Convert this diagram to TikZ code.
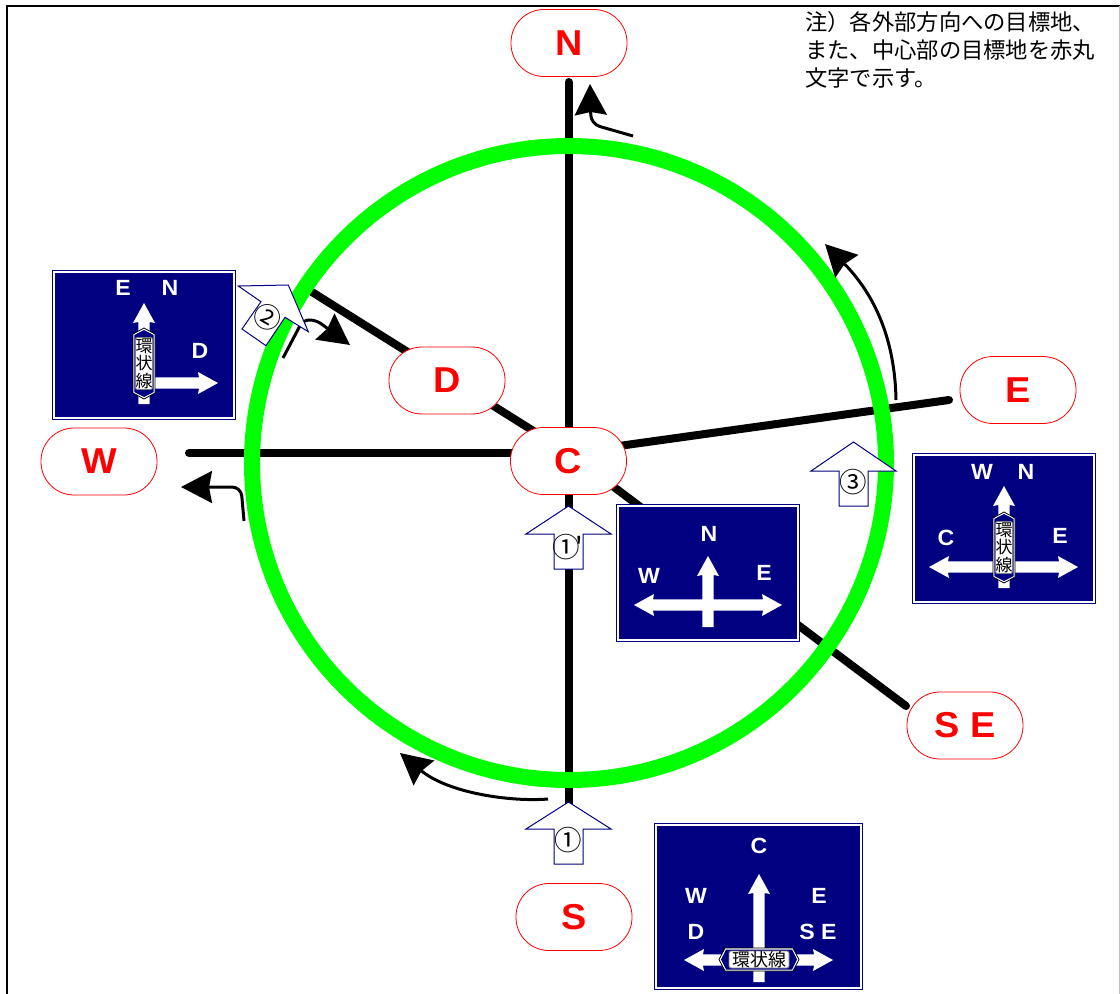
\documentclass[tikz,border=0pt]{standalone}
\usepackage{fontspec}
\usetikzlibrary{arrows.meta}
\newfontfamily\cjkfont{Noto Sans CJK JP}
\newfontfamily\signfont{Liberation Sans}[FakeStretch=1.05]
\definecolor{signblue}{HTML}{000080}
\definecolor{ringgreen}{HTML}{00FF00}
\tikzset{
  road/.style={line width=8pt,line cap=round,black},
  ring/.style={line width=16pt,ringgreen},
  pill/.style={draw=red,line width=0.8pt,fill=white,rounded corners=33pt,minimum width=116pt,minimum height=67pt,inner sep=0pt,outer sep=0pt,text=red,font=\signfont\bfseries\fontsize{36}{38}\selectfont},
  signbox/.style={draw=signblue,fill=signblue,line width=1.4pt,double=white,double distance=1.5pt,inner sep=0pt,outer sep=0pt},
  signtext/.style={text=white,inner sep=0pt,font=\signfont\bfseries\fontsize{22}{24}\selectfont},
  guide/.style={draw=signblue,fill=white,line width=1pt,line join=miter},
  guidetext/.style={inner sep=0pt,font=\cjkfont\fontsize{27.5}{29}\selectfont},
  turn/.style={line width=3pt,black,-{Stealth[length=31pt,width=32pt,inset=3pt]}},
  note/.style={inner sep=0pt,anchor=north west,align=left,font=\cjkfont\fontsize{22.3}{28}\selectfont},
}
% white arrow of a sign: tip at (#1,#2), rotated #3, total length #4
\newcommand{\whitearrow}[4]{\fill[white,shift={(#1,#2)},rotate=#3] (0,0) -- (11,20) -- (5.7,19) -- (5.7,#4) -- (-5.7,#4) -- (-5.7,19) -- (-11,20) -- cycle;}
% vertical ring-road plate
\newcommand{\plateV}[3]{\begin{scope}[shift={(#2,#3)}]
  \draw[black,line width=0.8pt,fill=white] (0,-35.5) -- (11,-29.5) -- (11,29.5) -- (0,35.5) -- (-11,29.5) -- (-11,-29.5) -- cycle;
  \fill[signblue] (0,-33.5) -- (9.7,-28.5) -- (9.7,28.5) -- (0,33.5) -- (-9.7,28.5) -- (-9.7,-28.5) -- cycle;
  \draw[gray,line width=0.8pt,fill=white,rounded corners=2pt] (-8.5,-26) rectangle (8.5,26);
  \node[inner sep=0pt,align=center,font=\cjkfont\fontsize{17}{17.6}\selectfont] (#1) at (0,0) {環\\状\\線};
\end{scope}}
% horizontal ring-road plate
\newcommand{\plateH}[3]{\begin{scope}[shift={(#2,#3)}]
  \draw[black,line width=0.8pt,fill=white] (-40,0) -- (-34,-11.5) -- (34,-11.5) -- (40,0) -- (34,11.5) -- (-34,11.5) -- cycle;
  \fill[signblue] (-38,0) -- (-33,-10) -- (33,-10) -- (38,0) -- (33,10) -- (-33,10) -- cycle;
  \draw[gray,line width=0.8pt,fill=white,rounded corners=2pt] (-30,-8.5) rectangle (30,8.5);
  \node[inner sep=0pt,font=\cjkfont\fontsize{18}{18}\selectfont] (#1) at (0,0) {環状線};
\end{scope}}
\begin{document}
\begin{tikzpicture}[x=1pt,y=-1pt]
\useasboundingbox (0,0) rectangle (1120,994);
\fill[white] (0,0) rectangle (1120,994);
% frame
\draw[black,line width=2pt] (7,994) -- (7,6) -- (1120,6);
\draw[black!25,line width=1pt] (1119,6) -- (1119,994);

% road ends
\coordinate (hub) at (568.5,453);
\coordinate (endN) at (568.5,82);
\coordinate (endS) at (568.5,804);
\coordinate (endW) at (189,453);
\coordinate (endE) at (949,400);
\coordinate (endSE) at (906,706);
\coordinate (endD) at (312,292);
\draw[road] (hub) -- (endN);
\draw[road] (hub) -- (endS);
\draw[road] (hub) -- (endW);
\draw[road] (hub) -- (endE);
\draw[road] (hub) -- (endSE);
\draw[road] (hub) -- (endD);

% ring
\coordinate (ringc) at (569,463);
\draw[ring] (ringc) circle [radius=317];

% turning arrows
\coordinate (tailN) at (633,136);
\coordinate (bendN) at (591,124);
\coordinate (tipN) at (590,84);
\draw[turn,rounded corners=9pt] (tailN) -- (bendN) -- (tipN);
\coordinate (tailW) at (244,521);
\coordinate (bendW) at (241,487);
\coordinate (tipW) at (181,487);
\draw[turn,rounded corners=9pt] (tailW) -- (bendW) -- (tipW);
\coordinate (tailE) at (896,400);
\coordinate (tipE) at (825,244);
\draw[turn] (tailE) .. controls (895,340) and (875,295) .. (tipE);
\coordinate (tailS) at (548,799);
\coordinate (tipS) at (400,753);
\draw[turn] (tailS) .. controls (510,802) and (448,793) .. (tipS);
\coordinate (tailD) at (283,358);
\coordinate (bendDa) at (303,320);
\coordinate (bendDb) at (316,320);
\coordinate (tipD) at (350,345);
\draw[turn,rounded corners=6pt] (tailD) -- (bendDa) -- (bendDb) -- (tipD);

% destination pills
\node[pill] (N) at (569,43) {N};
\node[pill] (C) at (568.5,461) {C};
\node[pill] (D) at (447,380.5) {D};
\node[pill] (E) at (1018,390) {E};
\node[pill] (W) at (99,461.5) {W};
\node[pill] (SE) at (965,725.5) {S E};
\node[pill] (S) at (574,917) {S};

% approach arrows
\draw[guide] (568.5,506) -- (611,534) -- (583,534) -- (583,569) -- (554,569) -- (554,534) -- (526,534) -- cycle;
\node[guidetext] (g1p) at (568,547.5) {①\kern-4pt'};
\draw[guide] (568.5,802) -- (611,829) -- (583,829) -- (583,864) -- (554,864) -- (554,829) -- (526,829) -- cycle;
\node[guidetext] (g1) at (568.5,840) {①};
\draw[guide] (853.5,442) -- (896,471) -- (868,471) -- (868,506) -- (839,506) -- (839,471) -- (811,471) -- cycle;
\node[guidetext] (g3) at (853,482) {③};
\draw[guide] (288.3,285) -- (308.3,331.7) -- (285,317.3) -- (266,345.7) -- (242,329) -- (261,301.7) -- (238.3,286) -- cycle;
\node[guidetext,rotate=-30] (g2) at (268,317) {②};

% sign west-approach
\node[signbox,minimum width=180pt,minimum height=146pt] (signA) at (144,345) {};
\whitearrow{144}{303}{0}{101}
\whitearrow{218}{383}{-90}{74}
\plateV{plateA}{144}{363.5}
\node[signtext] (aE) at (123,288) {E};
\node[signtext] (aN) at (170,288) {N};
\node[signtext] (aD) at (200,351) {D};

% sign centre
\node[signbox,minimum width=180pt,minimum height=134pt] (signB) at (708,573) {};
\whitearrow{708}{556}{0}{71}
\whitearrow{634}{605}{90}{74}
\whitearrow{782}{605}{-90}{74}
\node[signtext] (bN) at (709,534) {N};
\node[signtext] (bW) at (649,576) {W};
\node[signtext] (bE) at (764,573) {E};

% sign east
\node[signbox,minimum width=180pt,minimum height=147pt] (signC) at (1004,528.5) {};
\whitearrow{1004}{486}{0}{102}
\whitearrow{929}{567}{90}{75}
\whitearrow{1078}{567}{-90}{74}
\plateV{plateC}{1004}{547.5}
\node[signtext] (cW) at (982,472) {W};
\node[signtext] (cN) at (1026,472) {N};
\node[signtext] (cC) at (946,538) {C};
\node[signtext] (cE) at (1060,536) {E};

% sign south
\node[signbox,minimum width=205pt,minimum height=163pt] (signD) at (758.5,906.5) {};
\whitearrow{759}{874}{0}{108}
\whitearrow{684}{960}{90}{75}
\whitearrow{833}{960}{-90}{74}
\plateH{plateD}{759}{959.5}
\node[signtext] (dC) at (759,846) {C};
\node[signtext] (dW) at (696,896) {W};
\node[signtext] (dE) at (819,896) {E};
\node[signtext] (dD) at (696,932) {D};
\node[signtext] (dSE) at (818,932) {S E};

% note
\node[note] (note) at (805,11) {注）各外部方向への目標地、\\また、中心部の目標地を赤丸\\文字で示す。};
\end{tikzpicture}
\end{document}
